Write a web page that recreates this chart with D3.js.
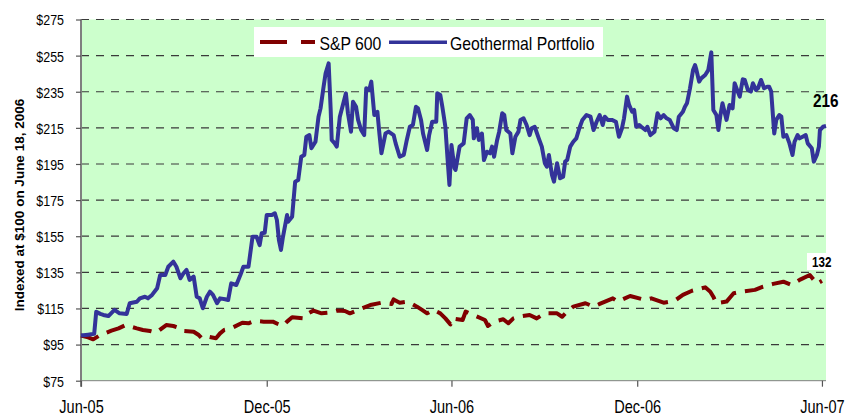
<!DOCTYPE html>
<html>
<head>
<meta charset="utf-8">
<script src="https://cdn.jsdelivr.net/npm/d3@7"></script>
<style>
  html, body { margin: 0; padding: 0; background: #ffffff; }
  svg { display: block; }
  text { font-family: "Liberation Sans", Arial, Helvetica, sans-serif; fill: #000; }
</style>
</head>
<body>
<svg id="chart" width="847" height="417"></svg>
<script>
// ---------------- DATA ----------------
const xTickLabels = ["2005-06-01", "2005-12-01", "2006-06-01", "2006-12-01", "2007-06-01"];
const yTickValues = [75, 95, 115, 135, 155, 175, 195, 215, 235, 255, 275];
const seriesNames = ["S&P 600", "Geothermal Portfolio"];
const endLabels = [132, 216];
const yAxisTitle = "Indexed at $100 on June 18, 2006";

const geoDates = [
"2005-06-01","2005-06-08","2005-06-14","2005-06-16","2005-06-20","2005-06-23","2005-06-28","2005-07-04","2005-07-09","2005-07-16",
"2005-07-19","2005-07-26","2005-07-29","2005-08-03","2005-08-06","2005-08-10","2005-08-15","2005-08-18","2005-08-23","2005-08-26",
"2005-08-31","2005-09-03","2005-09-07","2005-09-10","2005-09-13","2005-09-16","2005-09-20","2005-09-23","2005-09-26","2005-09-29",
"2005-10-03","2005-10-06","2005-10-09","2005-10-13","2005-10-16","2005-10-21","2005-10-24","2005-10-27","2005-11-01","2005-11-05",
"2005-11-08","2005-11-13","2005-11-17","2005-11-21","2005-11-24","2005-11-26","2005-11-29","2005-12-01","2005-12-06","2005-12-09",
"2005-12-11","2005-12-13","2005-12-15","2005-12-17","2005-12-21","2005-12-22","2005-12-26","2005-12-29","2006-01-01","2006-01-04",
"2006-01-07","2006-01-09","2006-01-12","2006-01-14","2006-01-18","2006-01-21","2006-01-23","2006-01-26","2006-01-28","2006-01-31",
"2006-02-02","2006-02-03","2006-02-06","2006-02-08","2006-02-11","2006-02-14","2006-02-17","2006-02-19","2006-02-22","2006-02-24",
"2006-02-27","2006-03-01","2006-03-04","2006-03-07","2006-03-09","2006-03-12","2006-03-14","2006-03-17","2006-03-20","2006-03-22",
"2006-03-24","2006-03-28","2006-03-31","2006-04-05","2006-04-07","2006-04-11","2006-04-15","2006-04-18","2006-04-21","2006-04-24",
"2006-04-27","2006-04-29","2006-05-02","2006-05-04","2006-05-08","2006-05-10","2006-05-13","2006-05-17","2006-05-18","2006-05-21",
"2006-05-23","2006-05-26","2006-05-28","2006-05-30","2006-06-01","2006-06-04","2006-06-05","2006-06-09","2006-06-13","2006-06-16",
"2006-06-19","2006-06-22","2006-06-23","2006-06-26","2006-06-28","2006-07-01","2006-07-03","2006-07-06","2006-07-09","2006-07-11",
"2006-07-13","2006-07-16","2006-07-18","2006-07-21","2006-07-23","2006-07-25","2006-07-29","2006-07-31","2006-08-03","2006-08-06",
"2006-08-08","2006-08-11","2006-08-14","2006-08-17","2006-08-19","2006-08-22","2006-08-26","2006-08-29","2006-09-01","2006-09-03",
"2006-09-05","2006-09-08","2006-09-10","2006-09-13","2006-09-16","2006-09-19","2006-09-21","2006-09-23","2006-09-26","2006-09-29",
"2006-10-02","2006-10-05","2006-10-08","2006-10-12","2006-10-16","2006-10-19","2006-10-22","2006-10-25","2006-10-28","2006-10-30",
"2006-11-02","2006-11-06","2006-11-10","2006-11-13","2006-11-16","2006-11-18","2006-11-21","2006-11-23","2006-11-26","2006-11-28",
"2006-11-30","2006-12-03","2006-12-05","2006-12-09","2006-12-11","2006-12-14","2006-12-18","2006-12-21","2006-12-24","2006-12-27",
"2006-12-30","2007-01-02","2007-01-06","2007-01-09","2007-01-11","2007-01-15","2007-01-17","2007-01-19","2007-01-22","2007-01-25",
"2007-01-27","2007-01-28","2007-01-31","2007-02-02","2007-02-06","2007-02-09","2007-02-12","2007-02-14","2007-02-17","2007-02-19",
"2007-02-21","2007-02-23","2007-02-25","2007-02-27","2007-03-02","2007-03-05","2007-03-07","2007-03-10","2007-03-12","2007-03-15",
"2007-03-17","2007-03-20","2007-03-23","2007-03-25","2007-03-28","2007-03-30","2007-04-02","2007-04-05","2007-04-08","2007-04-10",
"2007-04-12","2007-04-15","2007-04-17","2007-04-20","2007-04-22","2007-04-24","2007-04-27","2007-04-30","2007-05-03","2007-05-05",
"2007-05-08","2007-05-10","2007-05-13","2007-05-16","2007-05-18","2007-05-22","2007-05-24","2007-05-27","2007-05-29","2007-05-30",
"2007-06-02","2007-06-05"];
const geoValues = [
100,100.5,101,113.2,112,111.4,110.8,114.2,112.3,111.9,
117.9,118.7,120.6,121.5,120.6,122.5,126.2,133.5,133.5,138.1,
140.9,138.1,131.7,134.5,136.3,130.8,132.6,121.5,120.6,115.1,
121.5,124.3,122.5,117.9,120.6,120.1,119.7,128.9,128.0,133.5,
138.1,138.1,154.7,154.7,150.1,156.6,156.9,166.7,166.7,167.7,
164.0,152.9,147.4,154.7,166.7,163.0,165.8,185.2,186.1,199.0,
200.0,210.1,211.0,203.7,207.3,221.2,225.8,237.8,245.2,250.7,
225.0,208.3,206.4,204.6,221.2,227.7,234.1,223.1,212.9,229.5,
226.7,219.4,213.8,211.0,236.9,236.0,240.6,222.1,223.9,211.9,
200.9,211.9,212.9,211.0,206.4,199.0,200.0,208.3,215.6,216.6,
226.7,225.8,219.4,211.9,202.7,211.0,218.4,218.4,234.1,233.2,
226.7,215.6,199.0,183.4,205.5,192.6,191.7,204.6,206.4,220.3,
222.1,219.4,209.2,214.8,208.3,211.9,197.2,201.8,200.9,204.6,
199.0,208.3,212.9,223.1,222.1,213.8,211.9,200.9,210.1,212.9,
219.4,220.3,216.6,211.0,214.8,215.6,209.2,204.6,195.4,193.5,
200.0,188.9,185.2,195.4,187.1,188.0,196.3,197.2,204.6,207.3,
209.2,214.8,219.4,222.1,221.2,213.8,218.4,222.1,216.6,221.2,
219.4,219.4,218.4,210.1,214.8,220.3,232.3,227.7,223.9,224.9,
215.6,216.6,215.6,213.8,215.6,211.0,212.9,223.1,220.3,222.1,
220.3,219.4,214.8,213.8,221.2,223.9,226.7,228.6,236.9,247.0,
249.8,247.9,240.6,242.4,244.3,247.0,256.8,224.9,222.1,213.8,
222.1,228.6,223.9,219.4,227.7,225.8,239.7,235.1,232.3,241.9,
241.5,236.0,235.1,239.7,236.0,236.9,241.5,236.9,237.8,237.8,
235.1,211.9,219.4,222.1,221.2,210.1,211.0,206.4,200.0,207.3,
211.0,209.2,210.1,211.0,206.4,203.7,196.3,200.0,204.6,213.8,
215.6,216.0];

const spDates = [
"2005-06-01","2005-06-08","2005-06-13","2005-06-20","2005-07-01","2005-07-08","2005-07-15","2005-07-26","2005-08-01","2005-08-08",
"2005-08-14","2005-08-24","2005-08-31","2005-09-07","2005-09-10","2005-09-20","2005-09-25","2005-09-28","2005-10-04","2005-10-12",
"2005-10-16","2005-10-20","2005-10-27","2005-11-07","2005-11-13","2005-11-19","2005-11-28","2005-12-07","2005-12-12","2005-12-17",
"2005-12-21","2005-12-26","2006-01-06","2006-01-11","2006-01-16","2006-01-24","2006-02-03","2006-02-09","2006-02-16","2006-02-21",
"2006-03-05","2006-03-13","2006-03-24","2006-04-03","2006-04-05","2006-04-11","2006-04-19","2006-04-28","2006-05-03","2006-05-08",
"2006-05-14","2006-05-21","2006-05-26","2006-05-31","2006-06-02","2006-06-12","2006-06-15","2006-06-19","2006-07-04","2006-07-07",
"2006-07-13","2006-07-22","2006-07-27","2006-08-01","2006-08-06","2006-08-17","2006-08-24","2006-09-01","2006-09-13","2006-09-18",
"2006-09-23","2006-09-29","2006-10-11","2006-10-19","2006-10-25","2006-11-07","2006-11-12","2006-11-24","2006-12-09","2006-12-15",
"2006-12-27","2007-01-07","2007-01-15","2007-01-24","2007-02-06","2007-02-11","2007-02-14","2007-02-17","2007-02-27","2007-03-06",
"2007-03-14","2007-03-27","2007-04-04","2007-04-14","2007-04-24","2007-05-02","2007-05-10","2007-05-20","2007-05-24","2007-05-27",
"2007-06-01"];
const spValues = [
100,99.0,97.9,100.3,102.7,104.0,105.8,104.0,103.1,102.5,
101.6,105.8,105.3,104.0,102.5,102.1,100.3,98.5,99.4,98.5,
101.2,103.1,104.0,107.1,106.8,108.1,107.7,107.7,106.4,105.3,
107.7,110.1,109.5,112.3,113.8,112.3,112.8,113.8,113.6,112.3,
115.1,116.9,118.2,117.5,120.0,118.2,118.8,116.0,114.2,112.3,
114.2,112.3,109.5,106.2,109.5,108.6,113.3,112.3,108.6,105.3,
107.7,109.0,106.8,109.5,110.4,111.4,109.5,112.3,112.3,110.4,
113.3,116.0,117.9,116.0,117.5,120.6,118.8,121.9,119.7,120.6,
118.2,119.3,122.5,124.8,126.7,124.3,121.5,117.9,118.8,123.4,
124.3,125.3,127.1,128.6,129.8,128.0,130.8,133.5,130.8,128.6,
130.3];

// ---------------- CHART ----------------
(function () {
const parse = d3.timeParse("%Y-%m-%d");
const svg = d3.select("#chart");
const pL = 81, pR = 826, pT = 19.5, pB = 380.7;
const SX = 0.83; // horizontal squeeze of the original lettering

const x = d3.scaleTime()
  .domain([parse("2005-06-01"), parse("2007-06-05")])
  .range([pL, pR]);
const y = d3.scaleLinear().domain([75, 275]).range([pB, pT]);

const blue = "#333399", red = "#800000";

// plot background
svg.append("rect").attr("x", pL).attr("y", pT)
  .attr("width", pR - pL).attr("height", pB - pT)
  .attr("fill", "#ccffcc");

// gridlines
svg.append("g").selectAll("line")
  .data(yTickValues.filter(v => v > 75))
  .join("line")
  .attr("x1", pL).attr("x2", pR)
  .attr("y1", d => y(d)).attr("y2", d => y(d))
  .attr("stroke", "#3a3a3a").attr("stroke-width", 1.2)
  .attr("stroke-dasharray", "8,7");

// y axis
const yAxis = svg.append("g").attr("transform", `translate(${pL},0)`)
  .call(d3.axisLeft(y).tickValues(yTickValues).tickSize(5).tickFormat(d => "$" + d));
yAxis.select(".domain").attr("stroke", "#7f7f7f").attr("stroke-width", 2)
  .attr("d", `M0,${pT}V${pB + 6}`);
yAxis.selectAll(".tick line").attr("stroke", "#555").attr("stroke-width", 1.2);
yAxis.selectAll(".tick text")
  .attr("x", -17 / SX).attr("dy", "0.36em")
  .attr("transform", `scale(${SX},1)`)
  .attr("fill", "#000")
  .style("font-size", "15px").style("font-family", "Liberation Sans, Arial, sans-serif");

// x axis
const xAxis = svg.append("g").attr("transform", `translate(0,${pB})`)
  .call(d3.axisBottom(x).tickValues(xTickLabels.map(parse)).tickSize(6)
    .tickFormat(d3.timeFormat("%b-%y")));
xAxis.select(".domain").attr("stroke", "#7f7f7f").attr("stroke-width", 1)
  .attr("d", `M${pL},0H${pR}`);
xAxis.selectAll(".tick line").attr("stroke", "#555").attr("stroke-width", 1.2);
xAxis.selectAll(".tick text")
  .attr("y", 32.3).attr("dy", 0)
  .attr("transform", `scale(${SX},1)`)
  .attr("fill", "#000")
  .style("font-size", "17.5px").style("font-family", "Liberation Sans, Arial, sans-serif");

// lines
const line = d3.line().x(d => x(d[0])).y(d => y(d[1]));
const spData = spDates.map((d, i) => [parse(d), spValues[i]]);
const geoData = geoDates.map((d, i) => [parse(d), geoValues[i]]);

svg.append("path").datum(spData).attr("d", line)
  .attr("fill", "none").attr("stroke", red).attr("stroke-width", 4)
  .attr("stroke-dasharray", "19,9").attr("stroke-linejoin", "round");
svg.append("path").datum(geoData).attr("d", line)
  .attr("fill", "none").attr("stroke", blue).attr("stroke-width", 4)
  .attr("stroke-linejoin", "round");

// end labels
svg.append("rect").attr("x", 807).attr("y", 253).attr("width", 22).attr("height", 17).attr("fill", "#fff");
svg.append("text")
  .attr("transform", `translate(812,266.5) scale(${SX},1)`)
  .style("font-size", "14px").style("font-weight", "bold")
  .text(endLabels[0]);
svg.append("text")
  .attr("transform", `translate(813,107) scale(${SX},1)`)
  .style("font-size", "18.5px").style("font-weight", "bold")
  .text(endLabels[1]);

// legend
const lg = svg.append("g");
lg.append("rect").attr("x", 254).attr("y", 27).attr("width", 349).attr("height", 30).attr("fill", "#fff");
lg.append("line").attr("x1", 260).attr("x2", 315).attr("y1", 42).attr("y2", 42)
  .attr("stroke", red).attr("stroke-width", 4).attr("stroke-dasharray", "27,14");
lg.append("text").attr("transform", `translate(319.5,49.5) scale(${SX},1)`)
  .style("font-size", "19px").text(seriesNames[0]);
lg.append("line").attr("x1", 389).attr("x2", 447).attr("y1", 42.3).attr("y2", 42.3)
  .attr("stroke", blue).attr("stroke-width", 3.6);
lg.append("text").attr("transform", `translate(450,49.5) scale(${SX},1)`)
  .style("font-size", "19px").text(seriesNames[1]);

// y axis title
svg.append("text")
  .attr("transform", "translate(23.5,205) rotate(-90)")
  .attr("text-anchor", "middle")
  .style("font-size", "13.5px").style("font-weight", "bold")
  .text(yAxisTitle);
})();
</script>
</body>
</html>
